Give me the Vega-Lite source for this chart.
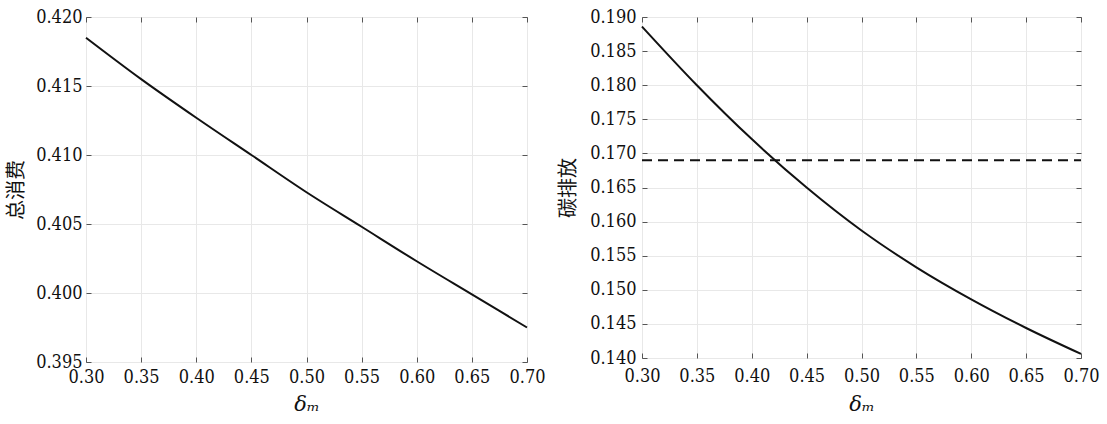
{
  "$schema": "https://vega.github.io/schema/vega-lite/v6.json",
  "background": "white",
  "padding": {"left": 6, "top": 7, "right": 5, "bottom": 2},
  "spacing": 12,
  "datasets": {
    "consumption": [
      {"dm": 0.30, "total": 0.4185},
      {"dm": 0.35, "total": 0.4155},
      {"dm": 0.40, "total": 0.4127},
      {"dm": 0.45, "total": 0.4100},
      {"dm": 0.50, "total": 0.4073},
      {"dm": 0.55, "total": 0.4048},
      {"dm": 0.60, "total": 0.4023},
      {"dm": 0.65, "total": 0.3999},
      {"dm": 0.70, "total": 0.3975}
    ],
    "emission": [
      {"dm": 0.30, "carbon": 0.1886},
      {"dm": 0.35, "carbon": 0.1800},
      {"dm": 0.40, "carbon": 0.1721},
      {"dm": 0.45, "carbon": 0.1650},
      {"dm": 0.50, "carbon": 0.1587},
      {"dm": 0.55, "carbon": 0.1533},
      {"dm": 0.60, "carbon": 0.1486},
      {"dm": 0.65, "carbon": 0.1444},
      {"dm": 0.70, "carbon": 0.1406}
    ],
    "baseline": [
      {"dm": 0.30, "carbon": 0.169},
      {"dm": 0.70, "carbon": 0.169}
    ]
  },
  "config": {
    "view": {"stroke": "#4d4d4d", "strokeWidth": 1},
    "axis": {
      "labelFont": "DejaVu Serif Condensed, DejaVu Serif",
      "labelFontSize": 18,
      "labelColor": "#111",
      "labelFlush": false,
      "labelOverlap": false,
      "tickColor": "#555",
      "tickSize": -5,
      "domain": false,
      "gridColor": "#e8e8e8",
      "gridWidth": 1,
      "titleColor": "#111",
      "titleFontWeight": "normal"
    }
  },
  "hconcat": [
    {
      "width": 441,
      "height": 345,
      "data": {"name": "consumption"},
      "layer": [
        {
          "mark": {"type": "line", "color": "#111", "strokeWidth": 2, "interpolate": "monotone"},
          "encoding": {
            "x": {
              "field": "dm", "type": "quantitative",
              "scale": {"domain": [0.3, 0.7], "nice": false, "zero": false},
              "axis": {
                "orient": "bottom",
                "values": [0.3, 0.35, 0.4, 0.45, 0.5, 0.55, 0.6, 0.65, 0.7],
                "format": ".2f",
                "labelPadding": 11,
                "title": "δₘ",
                "titleFont": "DejaVu Serif",
                "titleFontStyle": "italic",
                "titleFontSize": 21,
                "titlePadding": 7
              }
            },
            "y": {
              "field": "total", "type": "quantitative",
              "scale": {"domain": [0.395, 0.42], "nice": false, "zero": false},
              "axis": {
                "orient": "left",
                "values": [0.395, 0.4, 0.405, 0.41, 0.415, 0.42],
                "format": ".3f",
                "labelPadding": 9,
                "title": "总消费",
                "titleFont": "Noto Sans CJK SC",
                "titleFontSize": 20,
                "titlePadding": 9
              }
            }
          }
        },
        {
          "mark": {"type": "line", "strokeOpacity": 0},
          "encoding": {
            "x": {
              "field": "dm", "type": "quantitative",
              "scale": {"domain": [0.3, 0.7], "nice": false, "zero": false},
              "axis": {"orient": "top", "values": [0.3, 0.35, 0.4, 0.45, 0.5, 0.55, 0.6, 0.65, 0.7], "labels": false, "grid": false, "title": null}
            },
            "y": {
              "field": "total", "type": "quantitative",
              "scale": {"domain": [0.395, 0.42], "nice": false, "zero": false},
              "axis": {"orient": "right", "values": [0.395, 0.4, 0.405, 0.41, 0.415, 0.42], "labels": false, "grid": false, "title": null}
            }
          }
        }
      ],
      "resolve": {"axis": {"x": "independent", "y": "independent"}}
    },
    {
      "width": 439,
      "height": 341,
      "layer": [
        {
          "data": {"name": "emission"},
          "mark": {"type": "line", "color": "#111", "strokeWidth": 2, "interpolate": "monotone"},
          "encoding": {
            "x": {
              "field": "dm", "type": "quantitative",
              "scale": {"domain": [0.3, 0.7], "nice": false, "zero": false},
              "axis": {
                "orient": "bottom",
                "values": [0.3, 0.35, 0.4, 0.45, 0.5, 0.55, 0.6, 0.65, 0.7],
                "format": ".2f",
                "labelPadding": 14,
                "title": "δₘ",
                "titleFont": "DejaVu Serif",
                "titleFontStyle": "italic",
                "titleFontSize": 21,
                "titlePadding": 8
              }
            },
            "y": {
              "field": "carbon", "type": "quantitative",
              "scale": {"domain": [0.14, 0.19], "nice": false, "zero": false},
              "axis": {
                "orient": "left",
                "values": [0.14, 0.145, 0.15, 0.155, 0.16, 0.165, 0.17, 0.175, 0.18, 0.185, 0.19],
                "format": ".3f",
                "labelPadding": 11,
                "title": "碳排放",
                "titleFont": "Noto Sans CJK SC",
                "titleFontSize": 20,
                "titlePadding": 11
              }
            }
          }
        },
        {
          "data": {"name": "baseline"},
          "mark": {"type": "line", "color": "#111", "strokeWidth": 2, "strokeDash": [10, 6]},
          "encoding": {
            "x": {
              "field": "dm", "type": "quantitative",
              "scale": {"domain": [0.3, 0.7], "nice": false, "zero": false},
              "axis": {"orient": "top", "values": [0.3, 0.35, 0.4, 0.45, 0.5, 0.55, 0.6, 0.65, 0.7], "labels": false, "grid": false, "title": null}
            },
            "y": {
              "field": "carbon", "type": "quantitative",
              "scale": {"domain": [0.14, 0.19], "nice": false, "zero": false},
              "axis": {"orient": "right", "values": [0.14, 0.145, 0.15, 0.155, 0.16, 0.165, 0.17, 0.175, 0.18, 0.185, 0.19], "labels": false, "grid": false, "title": null}
            }
          }
        }
      ],
      "resolve": {"axis": {"x": "independent", "y": "independent"}}
    }
  ]
}
